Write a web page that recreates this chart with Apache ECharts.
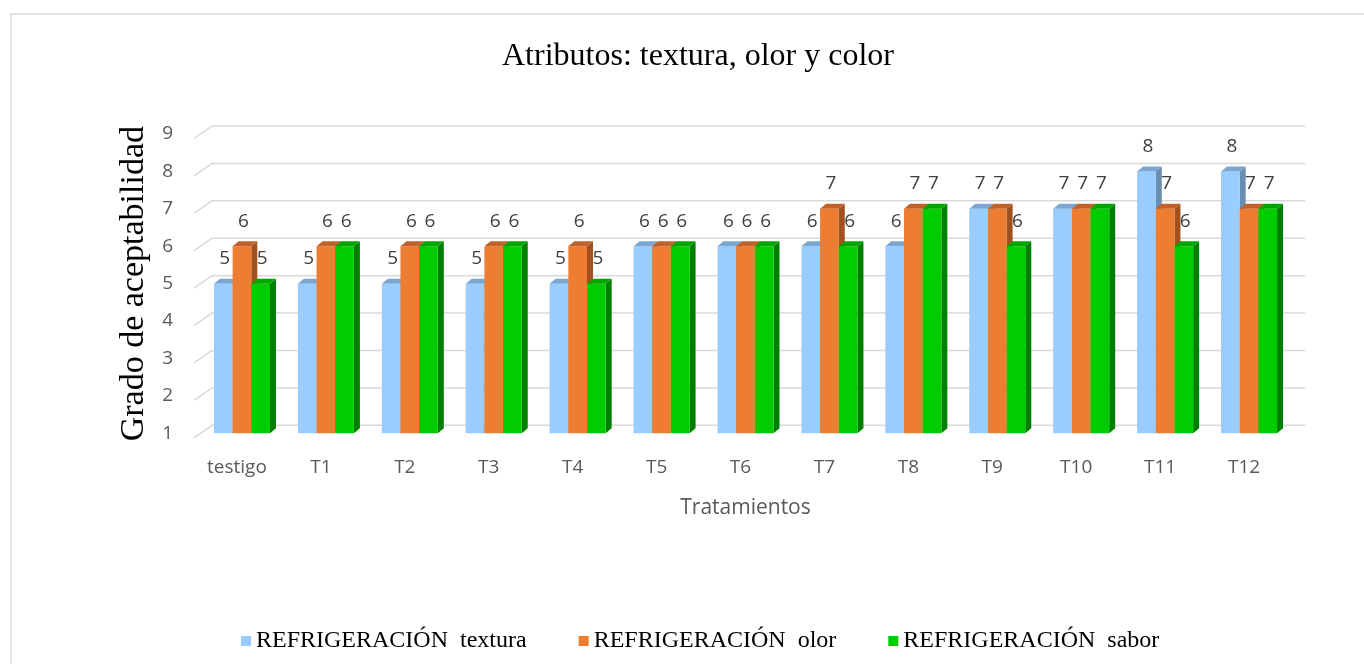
<!DOCTYPE html>
<html>
<head>
<meta charset="utf-8">
<script src="https://cdn.jsdelivr.net/npm/echarts@6/dist/echarts.min.js"></script>
<style>
  html, body { margin: 0; padding: 0; background: #fff; }
  #chart { width: 1364px; height: 664px; }
</style>
</head>
<body>
<div id="chart"></div>
<script>
const categories = ['testigo', 'T1', 'T2', 'T3', 'T4', 'T5', 'T6', 'T7', 'T8', 'T9', 'T10', 'T11', 'T12'];
const textura = [5, 5, 5, 5, 5, 6, 6, 6, 6, 7, 7, 8, 8];
const olor = [6, 6, 6, 6, 6, 6, 6, 7, 7, 7, 7, 7, 7];
const sabor = [5, 6, 6, 6, 5, 6, 6, 6, 7, 6, 7, 6, 7];
const yTicks = [1, 2, 3, 4, 5, 6, 7, 8, 9];

const sansFont = '"Open Sans", Lato, sans-serif';
const serifFont = '"Liberation Serif", "Times New Roman", serif';

// front, top, side
const palette = [
  ['#99CCFF', '#7BA6D2', '#6A8DB2'],
  ['#ED7D31', '#C0622A', '#A2501E'],
  ['#00CC00', '#00A600', '#007F00']
];

const myChart = echarts.init(document.getElementById('chart'));

// barra con cara superior y lateral (imitación 3D)
function bar3d(k) {
  const [front, topc, side] = palette[k];
  return function (params, api) {
    const i = api.value(0), v = api.value(1);
    const top = api.coord([i, v]);
    const base = api.coord([i, 1]);
    const bw = api.size([1, 0])[0] * 0.2225;
    const x0 = top[0] - 1.5 * bw + k * bw;
    const x1 = x0 + bw;
    const dx = 6, dy = 5;
    return {
      type: 'group',
      children: [
        {type: 'polygon', shape: {points: [[x1, top[1]], [x1 + dx, top[1] - dy], [x1 + dx, base[1] - dy], [x1, base[1]]]}, style: {fill: side}},
        {type: 'rect', shape: {x: x0, y: top[1], width: bw, height: base[1] - top[1]}, style: {fill: front}},
        {type: 'polygon', shape: {points: [[x0, top[1]], [x0 + dx, top[1] - dy], [x1 + dx, top[1] - dy], [x1, top[1]]]}, style: {fill: topc}},
        {type: 'text', style: {text: String(v), x: (x0 + x1) / 2 + 1.5, y: top[1] - 25, align: 'center', verticalAlign: 'middle', fontSize: 19, fontFamily: sansFont, fill: '#404040'}}
      ]
    };
  };
}

function gridLines(params, api) {
  const cs = params.coordSys;
  const y = api.coord([0, api.value(1)])[1];
  return {
    type: 'polyline',
    shape: {points: [[cs.x - 6, y + 4.5], [cs.x + 12, y - 8], [cs.x + cs.width + 14, y - 8]]},
    style: {stroke: '#D9D9D9', lineWidth: 1.5, fill: null}
  };
}

const names = ['REFRIGERACIÓN  textura', 'REFRIGERACIÓN  olor', 'REFRIGERACIÓN  sabor'];
const values = [textura, olor, sabor];

myChart.setOption({
  animation: false,
  title: {
    text: 'Atributos: textura, olor y color',
    left: 497,
    top: 36,
    textStyle: {fontFamily: serifFont, fontSize: 32, fontWeight: 'normal', color: '#000'}
  },
  legend: {
    data: names,
    top: 624,
    left: 236,
    icon: 'rect',
    itemWidth: 10,
    itemHeight: 10,
    itemGap: 52,
    textStyle: {fontFamily: serifFont, fontSize: 24, color: '#000'}
  },
  graphic: [
    {type: 'rect', shape: {x: 11, y: 14, width: 1400, height: 700}, style: {fill: null, stroke: '#D9D9D9', lineWidth: 1.5}, silent: true}
  ],
  grid: {left: 200, right: 73, top: 134, bottom: 230.7},
  xAxis: {
    type: 'category',
    data: categories,
    axisLine: {show: false},
    axisTick: {show: false},
    axisLabel: {fontSize: 19, fontFamily: sansFont, color: '#595959', margin: 25, padding: [0, 10, 0, 0]},
    name: 'Tratamientos',
    nameLocation: 'middle',
    nameGap: 64,
    nameTextStyle: {fontSize: 21, fontFamily: sansFont, color: '#595959'}
  },
  yAxis: {
    type: 'value',
    min: 1,
    max: 9,
    interval: 1,
    splitLine: {show: false},
    axisLine: {show: false},
    axisTick: {show: false},
    axisLabel: {fontSize: 19, fontFamily: sansFont, color: '#595959', margin: 27, padding: [9, 0, 0, 0]},
    name: 'Grado de aceptabilidad',
    nameLocation: 'middle',
    nameGap: 45,
    nameTextStyle: {fontSize: 34, fontFamily: serifFont, color: '#000'}
  },
  series: [
    {
      type: 'custom',
      silent: true,
      z: 1,
      renderItem: gridLines,
      data: yTicks.map(v => [0, v])
    }
  ].concat(values.map((vals, k) => ({
    name: names[k],
    type: 'custom',
    z: 2,
    itemStyle: {color: palette[k][0]},
    renderItem: bar3d(k),
    encode: {x: 0, y: 1},
    data: vals.map((v, i) => [i, v])
  })))
});
</script>
</body>
</html>
